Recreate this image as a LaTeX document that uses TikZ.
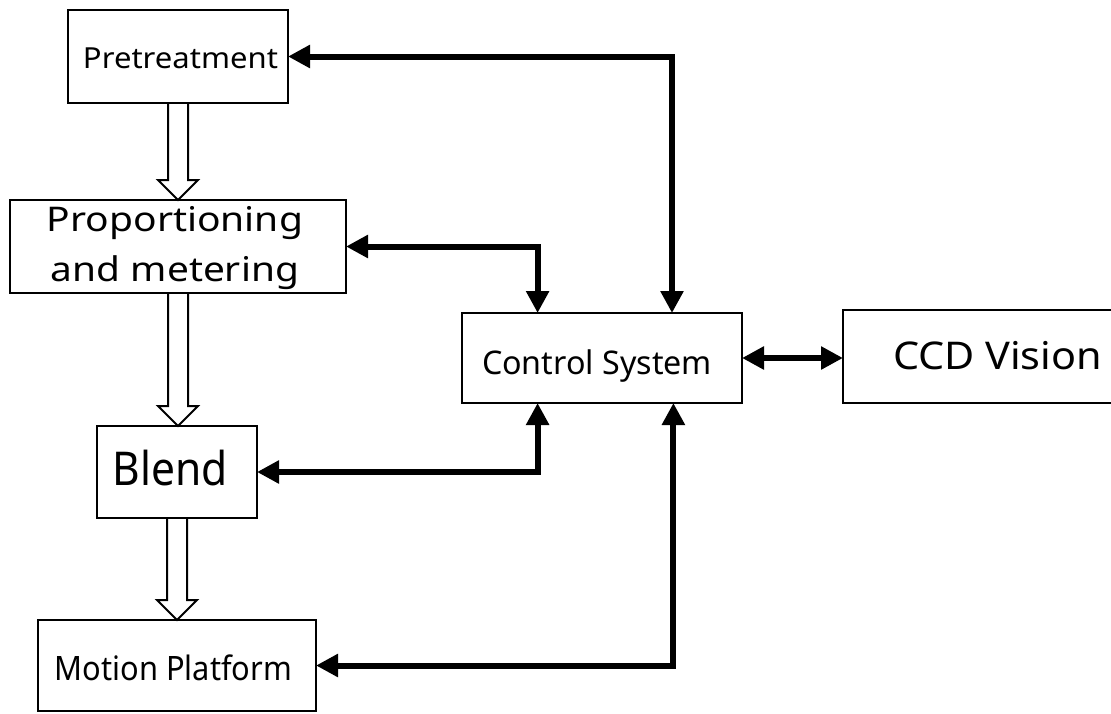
\documentclass[tikz,border=0pt]{standalone}
\usepackage{fontspec}
\setmainfont{Noto Sans}
\usetikzlibrary{arrows.meta,calc}
\newcommand\hollowarrow[2]{%
  \draw[hollow] let \p1=(#1.south), \p2=(#2.north) in
    (\x1-10pt,\y1) -- (\x1-10pt,\y2+20pt) -- (\x1-20pt,\y2+20pt) -- (\x1,\y2)
    -- (\x1+20pt,\y2+20pt) -- (\x1+10pt,\y2+20pt) -- (\x1+10pt,\y1);}
\begin{document}
\begin{tikzpicture}[x=1pt,y=-1pt,
  box/.style={draw,line width=2pt,inner sep=0pt,outer sep=0pt},
  conn/.style={line width=6pt,{Triangle[length=22pt,width=22pt]}-{Triangle[length=22pt,width=22pt]}},
  hollow/.style={line width=2pt,line join=miter}]
\useasboundingbox (0,0) rectangle (1111,713);

\node[box,minimum width=220pt,minimum height=93pt,text height=23.6pt,text depth=0pt] (pre) at (178,56.5)
  {\hspace*{5pt}\resizebox{195pt}{\height}{\fontsize{29}{34}\selectfont Pretreatment}};
\node[box,minimum width=336pt,minimum height=93pt,text height=0pt,text depth=29.6pt,font=\fontsize{34}{50}\selectfont] (prop) at (178,246.5)
  {\vtop{\baselineskip=50pt\lineskiplimit=-100pt
    \hbox to 262pt{\hss\resizebox{256pt}{\height}{Proportioning}\hss}
    \hbox to 262pt{\hss\resizebox{248pt}{\height}{and metering}\hss}}\hspace*{6pt}};
\node[box,minimum width=280pt,minimum height=90pt,text height=32pt,text depth=0pt] (ctrl) at (602,358)
  {\resizebox{230pt}{\height}{\fontsize{32.6}{40}\selectfont Control System}\hspace*{10pt}};
\node[box,minimum width=273pt,minimum height=93pt,text height=25pt,text depth=0pt] (ccd) at (979.5,356.5)
  {\hspace*{36pt}\resizebox{209pt}{\height}{\fontsize{38.2}{46}\selectfont CCD Vision}};
\node[box,minimum width=160pt,minimum height=92pt,text height=26pt,text depth=0pt] (blend) at (177,472)
  {\resizebox{115pt}{\height}{\fontsize{46.6}{56}\selectfont Blend}\hspace*{13pt}};
\node[box,minimum width=278pt,minimum height=91pt,text height=29pt,text depth=0pt] (motion) at (177,665.5)
  {\resizebox{237pt}{\height}{\fontsize{33.6}{40}\selectfont Motion Platform}\hspace*{7pt}};

\hollowarrow{pre}{prop}
\hollowarrow{prop}{blend}
\hollowarrow{blend}{motion}

\draw[conn] (pre.east) -| ($(ctrl.north west)!0.75!(ctrl.north east)$);
\draw[conn] (prop.east) -| ($(ctrl.north west)!0.27!(ctrl.north east)$);
\draw[conn] (blend.east) -| ($(ctrl.south west)!0.27!(ctrl.south east)$);
\draw[conn] (motion.east) -| ($(ctrl.south west)!0.755!(ctrl.south east)$);
\draw[conn] (ctrl.east) -- (ctrl.east -| ccd.west);
\end{tikzpicture}
\end{document}
